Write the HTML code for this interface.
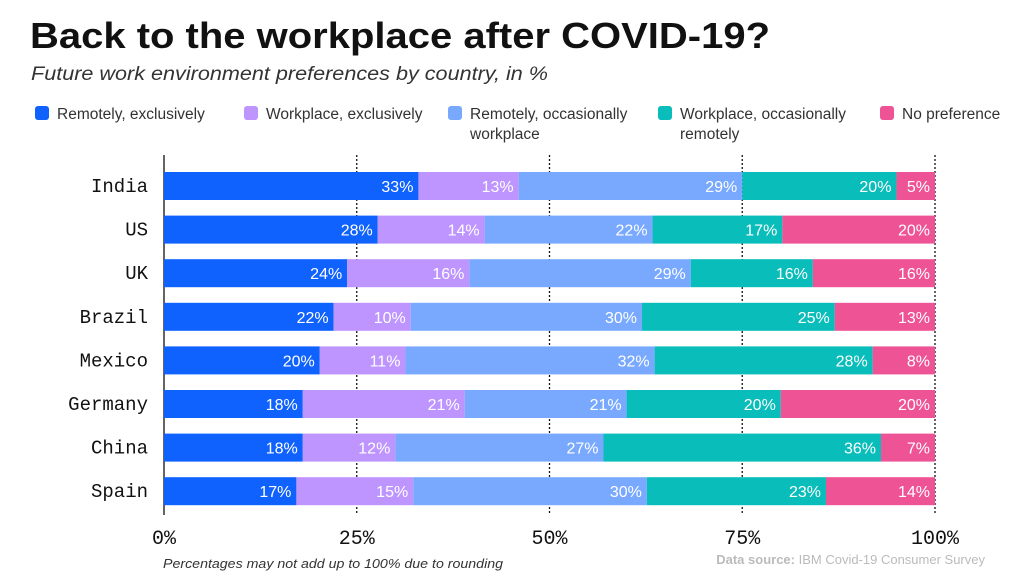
<!DOCTYPE html>
<html><head><meta charset="utf-8">
<style>
body{margin:0;background:#fff;width:1024px;height:577px;overflow:hidden;font-family:"Liberation Sans",sans-serif}
</style></head><body>
<svg id="c" width="1024" height="577">
<text x="30" y="48" font-size="36" font-weight="bold" fill="#111" textLength="740" lengthAdjust="spacingAndGlyphs">Back to the workplace after COVID-19?</text>
<text x="31" y="80" font-size="19" font-style="italic" fill="#333" textLength="517" lengthAdjust="spacingAndGlyphs">Future work environment preferences by country, in %</text>
<text x="163" y="568" font-size="13" font-style="italic" fill="#333" textLength="340" lengthAdjust="spacingAndGlyphs">Percentages may not add up to 100% due to rounding</text>
<text x="985" y="564" font-size="13" fill="#bbb" text-anchor="end"><tspan font-weight="bold">Data source:</tspan> IBM Covid-19 Consumer Survey</text>
<g id="legend"></g>
<g id="grid"></g>
<g id="plot"></g>
</svg>
<script>
const countries=["India","US","UK","Brazil","Mexico","Germany","China","Spain"];
const remoteExcl=[33,28,24,22,20,18,18,17];
const workExcl=[13,14,16,10,11,21,12,15];
const remoteOcc=[29,22,29,30,32,21,27,30];
const workOcc=[20,17,16,25,28,20,36,23];
const noPref=[5,20,16,13,8,20,7,14];
const seriesNames=["Remotely, exclusively","Workplace, exclusively","Remotely, occasionally|workplace","Workplace, occasionally|remotely","No preference"];
const ticks=[0,25,50,75,100];
const series=[remoteExcl,workExcl,remoteOcc,workOcc,noPref];
const colors=["#0f62fe","#be95ff","#78a9ff","#08bdba","#ee5396"];
const NS="http://www.w3.org/2000/svg";
const X0=164,X1=935,yTop=186,pitch=43.6,bh=28;
const xs=v=>X0+(X1-X0)*v/100;
const ys=i=>yTop+i*pitch;
function mk(tag,attrs,parent){const e=document.createElementNS(NS,tag);for(const k in attrs)e.setAttribute(k,attrs[k]);parent.appendChild(e);return e;}
const plot=document.getElementById('plot'),leg=document.getElementById('legend'),grid=document.getElementById('grid');
const legX=[35,244,448,658,880];
seriesNames.forEach((n,s)=>{
  const g=mk('g',{},leg);
  
  
  mk('rect',{x:legX[s],y:106,width:14,height:14,rx:3,fill:colors[s]},g);
  n.split('|').forEach((line,j)=>{const t=mk('text',{x:legX[s]+22,y:119+j*20,'font-size':15.5,fill:'#333'},g);t.textContent=line;});
});
ticks.forEach(v=>{
  const x=xs(v);
  const l=mk('line',{x1:x,x2:x,y1:155,y2:515,stroke:'#111','stroke-width':1.3,'stroke-dasharray':v===0?'none':'2,2'},v===0?plot:grid);
  
  
  const t=mk('text',{x:x,y:544,'font-size':20,'text-anchor':'middle','font-family':'Liberation Mono,monospace',fill:'#111'},grid);
  t.textContent=v+'%';
  
  
});
countries.forEach((c,i)=>{
  const tot=series.reduce((a,s)=>a+s[i],0);
  let acc=0;
  const lab=mk('text',{x:148,y:ys(i)+6,'font-size':19,'text-anchor':'end','font-family':'Liberation Mono,monospace',fill:'#111'},plot);
  lab.textContent=c;
  
  
  series.forEach((s,k)=>{
    const a=xs(acc/tot*100),b=xs((acc+s[i])/tot*100);acc+=s[i];
    const r=mk('rect',{x:a,y:ys(i)-bh/2,width:b-a,height:bh,fill:colors[k]},plot);
    
    
    const t=mk('text',{x:b-5,y:ys(i)+6,'font-size':16,'text-anchor':'end',fill:'#fff'},plot);
    t.textContent=s[i]+'%';
    
    
  });
});
</script>
</body></html>
